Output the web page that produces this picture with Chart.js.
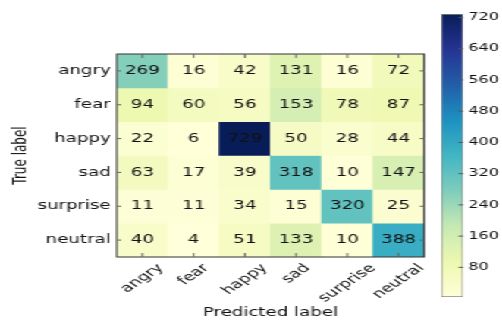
<!DOCTYPE html>
<html lang="en">
<head>
<meta charset="UTF-8">
<title>Confusion matrix</title>
<script src="https://cdn.jsdelivr.net/npm/chart.js"></script>
<style>
    html, body { margin: 0; padding: 0; background: #fff; overflow: hidden; }
    /* the figure is laid out with square cells and then widened */
    #figure { position: absolute; left: 0; top: 0; width: 331px; height: 322px;
              transform: scaleX(1.517); transform-origin: 0 0; }
    #matrixBox { position: absolute; left: 0; top: 0; width: 288px; height: 322px; }
    #barBox { position: absolute; left: 285px; top: 0; width: 46px; height: 322px; }
</style>
</head>
<body>
<div id="figure">
    <div id="matrixBox"><canvas id="matrix"></canvas></div>
    <div id="barBox"><canvas id="colorbar"></canvas></div>
</div>

<script>
    const predictedLabels = ['angry', 'fear', 'happy', 'sad', 'surprise', 'neutral'];
    const trueLabels = ['angry', 'fear', 'happy', 'sad', 'surprise', 'neutral'];

    // one row per true label, columns follow predictedLabels
    const angryRow    = [269, 16, 42, 131, 16, 72];
    const fearRow     = [94, 60, 56, 153, 78, 87];
    const happyRow    = [22, 6, 729, 50, 28, 44];
    const sadRow      = [63, 17, 39, 318, 10, 147];
    const surpriseRow = [11, 11, 34, 15, 320, 25];
    const neutralRow  = [40, 4, 51, 133, 10, 388];
    const counts = [angryRow, fearRow, happyRow, sadRow, surpriseRow, neutralRow];

    const colorbarTicks = [80, 160, 240, 320, 400, 480, 560, 640, 720];

    const vmin = Math.min(...counts.flat());
    const vmax = Math.max(...counts.flat());

    // YlGnBu
    const ylgnbu = [
        [255, 255, 217], [237, 248, 177], [199, 233, 180], [127, 205, 187], [65, 182, 196],
        [29, 145, 192], [34, 94, 168], [37, 52, 148], [8, 29, 88]
    ];
    function cmap(t) {
        t = Math.max(0, Math.min(1, t)) * (ylgnbu.length - 1);
        const i = Math.min(Math.floor(t), ylgnbu.length - 2);
        const f = t - i;
        const c = ylgnbu[i].map((v, k) => Math.round(v + (ylgnbu[i + 1][k] - v) * f));
        return 'rgb(' + c.join(',') + ')';
    }

    Chart.defaults.font.family = '"DejaVu Sans", sans-serif';
    Chart.defaults.font.size = 12;
    Chart.defaults.color = '#111';

    const matrixDecor = {
        id: 'matrixDecor',
        afterDatasetsDraw(chart) {
            const { ctx, chartArea: a, scales: { x, y } } = chart;
            ctx.save();

            // cell values
            ctx.font = '12px "DejaVu Sans"';
            ctx.fillStyle = '#111';
            ctx.textAlign = 'center';
            ctx.textBaseline = 'middle';
            counts.forEach((row, r) => {
                row.forEach((v, c) => {
                    ctx.fillText(String(v), x.getPixelForValue(c), y.getPixelForValue(r + 0.5));
                });
            });

            // frame and inward ticks on all sides
            ctx.strokeStyle = '#333';
            ctx.lineWidth = 1;
            ctx.strokeRect(a.left, a.top, a.width, a.height);
            ctx.strokeStyle = '#666';
            ctx.beginPath();
            predictedLabels.forEach((_, i) => {
                const px = x.getPixelForValue(i);
                ctx.moveTo(px, a.bottom); ctx.lineTo(px, a.bottom - 4);
                ctx.moveTo(px, a.top); ctx.lineTo(px, a.top + 4);
            });
            trueLabels.forEach((_, r) => {
                const py = y.getPixelForValue(r + 0.5);
                ctx.moveTo(a.left, py); ctx.lineTo(a.left + 3, py);
                ctx.moveTo(a.right, py); ctx.lineTo(a.right - 3, py);
            });
            ctx.stroke();

            // rotated x tick labels, centred under each tick
            ctx.font = '12px "DejaVu Sans"';
            ctx.fillStyle = '#111';
            predictedLabels.forEach((lab, i) => {
                const w = ctx.measureText(lab).width;
                const half = (w + 12) * Math.SQRT1_2 / 2;
                ctx.save();
                ctx.translate(x.getPixelForValue(i), a.bottom + 5 + half);
                ctx.rotate(-Math.PI / 4);
                ctx.fillText(lab, 0, 0);
                ctx.restore();
            });
            ctx.restore();
        }
    };

    new Chart(document.getElementById('matrix'), {
        type: 'bar',
        data: {
            labels: predictedLabels,
            datasets: counts.map((row, r) => ({
                label: trueLabels[r],
                data: row.map(() => [r, r + 1]),
                backgroundColor: row.map(v => cmap((v - vmin) / (vmax - vmin))),
                borderWidth: 0,
                barPercentage: 1,
                categoryPercentage: 1,
                grouped: false
            }))
        },
        options: {
            responsive: true,
            maintainAspectRatio: false,
            animation: false,
            layout: { padding: { top: 54, right: 8.4, left: 0, bottom: 0 } },
            plugins: { legend: { display: false }, tooltip: { enabled: false } },
            scales: {
                x: {
                    type: 'category',
                    grid: { display: false },
                    border: { display: false },
                    ticks: { display: false },
                    title: { display: true, text: 'Predicted label', padding: { top: 0, bottom: 2 } },
                    afterFit: s => { s.height = 65; }
                },
                y: {
                    type: 'linear',
                    min: 0,
                    max: 6,
                    reverse: true,
                    grid: { display: false, drawTicks: false },
                    border: { display: false },
                    afterBuildTicks: s => { s.ticks = trueLabels.map((_, i) => ({ value: i + 0.5 })); },
                    ticks: { padding: 4, callback: v => trueLabels[Math.floor(v)] },
                    title: { display: true, text: 'True label', padding: { top: 7, bottom: 0 } },
                    afterFit: s => { s.width = 77; }
                }
            }
        },
        plugins: [matrixDecor]
    });

    const colorbarDecor = {
        id: 'colorbarDecor',
        afterDatasetsDraw(chart) {
            const { ctx, chartArea: a, scales: { y } } = chart;
            ctx.save();
            ctx.strokeStyle = '#555';
            ctx.lineWidth = 1;
            ctx.beginPath();
            colorbarTicks.forEach(v => {
                const py = y.getPixelForValue(v);
                ctx.moveTo(a.right, py); ctx.lineTo(a.right - 3, py);
            });
            ctx.stroke();
            ctx.restore();
        }
    };

    new Chart(document.getElementById('colorbar'), {
        type: 'bar',
        data: {
            labels: [''],
            datasets: [{
                data: [[vmin, vmax]],
                backgroundColor(context) {
                    const { chart } = context;
                    if (!chart.chartArea) return null;
                    const y = chart.scales.y;
                    const g = chart.ctx.createLinearGradient(0, y.getPixelForValue(vmin), 0, y.getPixelForValue(vmax));
                    ylgnbu.forEach((c, i) => g.addColorStop(i / (ylgnbu.length - 1), 'rgb(' + c.join(',') + ')'));
                    return g;
                },
                borderColor: '#888',
                borderWidth: 1,
                borderSkipped: false,
                barPercentage: 1,
                categoryPercentage: 1
            }]
        },
        options: {
            responsive: true,
            maintainAspectRatio: false,
            animation: false,
            layout: { padding: { top: 14, bottom: 25, left: 5.8, right: 0 } },
            plugins: { legend: { display: false }, tooltip: { enabled: false } },
            scales: {
                x: { display: false },
                y: {
                    position: 'right',
                    min: vmin,
                    max: vmax,
                    grid: { display: false, drawTicks: false },
                    border: { display: false },
                    afterBuildTicks: s => { s.ticks = colorbarTicks.map(v => ({ value: v })); },
                    ticks: { padding: 3.5, font: { size: 10.5 } },
                    afterFit: s => { s.width = 25.7; }
                }
            }
        },
        plugins: [colorbarDecor]
    });
</script>
</body>
</html>
